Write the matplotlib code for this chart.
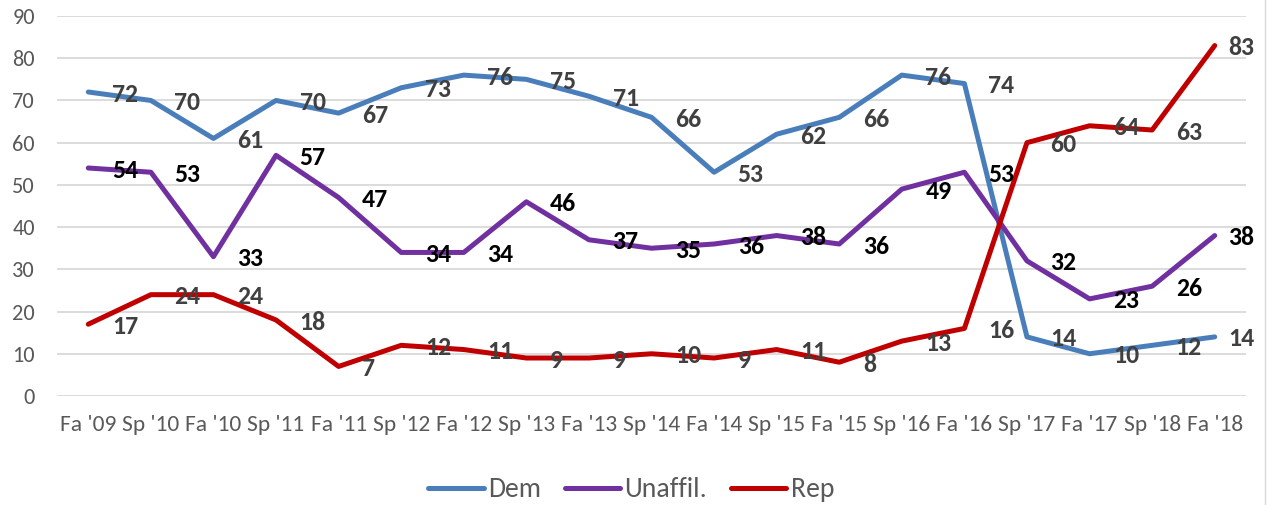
import matplotlib
matplotlib.use("Agg")
import matplotlib.pyplot as plt
from matplotlib.lines import Line2D

plt.rcParams['font.family'] = ['Carlito', 'DejaVu Sans']

categories = ["Fa '09", "Sp '10", "Fa '10", "Sp '11", "Fa '11", "Sp '12", "Fa '12",
              "Sp '13", "Fa '13", "Sp '14", "Fa '14", "Sp '15", "Fa '15", "Sp '16",
              "Fa '16", "Sp '17", "Fa '17", "Sp '18", "Fa '18"]
dem = [72, 70, 61, 70, 67, 73, 76, 75, 71, 66, 53, 62, 66, 76, 74, 14, 10, 12, 14]
unaffil = [54, 53, 33, 57, 47, 34, 34, 46, 37, 35, 36, 38, 36, 49, 53, 32, 23, 26, 38]
rep = [17, 24, 24, 18, 7, 12, 11, 9, 9, 10, 9, 11, 8, 13, 16, 60, 64, 63, 83]
yticks = [0, 10, 20, 30, 40, 50, 60, 70, 80, 90]

series = [
    ("Dem", dem, "#4A7EBB", "#404040"),
    ("Unaffil.", unaffil, "#7030A0", "#000000"),
    ("Rep", rep, "#C00000", "#404040"),
]

fig = plt.figure(figsize=(12.7, 5.05), dpi=100)
ax = fig.add_axes([57 / 1270, 1 - 396 / 505, (1246 - 57) / 1270, (396 - 16) / 505])

x = list(range(len(categories)))
for name, vals, color, lblcolor in series:
    ax.plot(x, vals, color=color, lw=3.6, solid_joinstyle='round',
            solid_capstyle='round', label=name, zorder=3)
for name, vals, color, lblcolor in series:
    for xi, v in zip(x, vals):
        dx = 10 if xi == len(categories) - 1 else 17
        ax.annotate(str(v), (xi, v), xytext=(dx, -1.5), textcoords='offset points',
                    ha='left', va='center', fontsize=18.5, fontweight='bold',
                    color=lblcolor, zorder=4)

ax.set_xlim(-0.5, len(categories) - 0.5)
ax.set_ylim(0, 90)
ax.set_yticks(yticks)
ax.set_xticks(x)
ax.set_xticklabels(categories)
ax.yaxis.grid(True, color='#D9D9D9', lw=1.3, zorder=0)
ax.set_axisbelow(True)
for s in ax.spines.values():
    s.set_visible(False)
ax.tick_params(axis='both', length=0, colors='#595959')
ax.tick_params(axis='x', labelsize=16.8, pad=14)
ax.tick_params(axis='y', labelsize=16, pad=16)

leg = fig.legend(loc='center', bbox_to_anchor=(0.497, 0.03), ncol=3, frameon=False,
                 fontsize=20, handlelength=2.0, handletextpad=0.15, columnspacing=0.85)
for t in leg.get_texts():
    t.set_color('#595959')
for h in leg.get_lines():
    h.set_linewidth(3.6)

fig.add_artist(Line2D([1265 / 1270, 1265 / 1270], [0, 1], color='#D9D9D9', lw=1,
                      transform=fig.transFigure))

fig.savefig("out.png", dpi=100)
